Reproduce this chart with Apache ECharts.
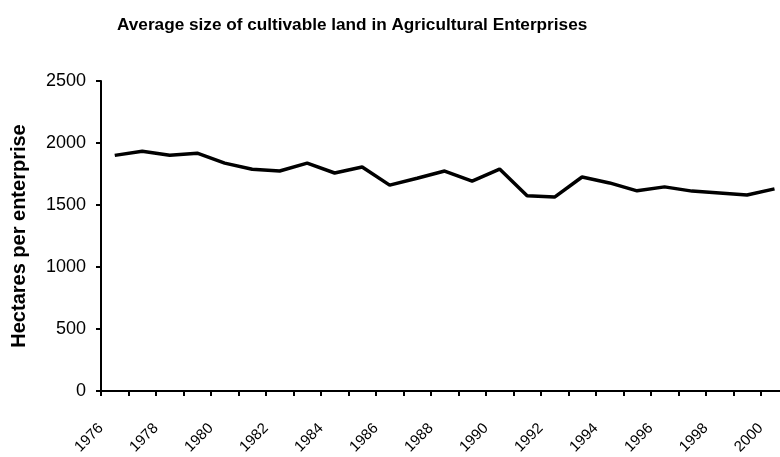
<!DOCTYPE html>
<html>
<head>
<meta charset="utf-8">
<script src="https://cdn.jsdelivr.net/npm/echarts@6/dist/echarts.min.js"></script>
<style>html,body{margin:0;padding:0;background:#fff;}#c{width:780px;height:457px;}</style>
</head>
<body>
<div id="c"></div>
<script>
var years = [1976,1977,1978,1979,1980,1981,1982,1983,1984,1985,1986,1987,1988,1989,1990,1991,1992,1993,1994,1995,1996,1997,1998,1999,2000];
var hectares = [1900,1934,1902,1918,1838,1788,1774,1838,1758,1806,1660,1716,1774,1692,1790,1574,1564,1726,1678,1614,1646,1612,1596,1580,1630];
var xTickLabels = [1976,1978,1980,1982,1984,1986,1988,1990,1992,1994,1996,1998,2000];
var yTicks = [0, 500, 1000, 1500, 2000, 2500];
var titleText = 'Average size of cultivable land in Agricultural Enterprises';
var yAxisTitle = 'Hectares per enterprise';

var chart = echarts.init(document.getElementById('c'), null, {renderer: 'canvas'});
var font = 'Liberation Sans, Arial, sans-serif';
var firstYear = years[0], lastYear = years[years.length - 1];
// each yearly value is plotted in the middle of its year slot
var seriesData = years.map(function (y, i) { return [y + 0.5, hectares[i]]; });

chart.setOption({
  animation: false,
  backgroundColor: '#ffffff',
  title: {
    text: titleText,
    left: 112, top: 12,
    textStyle: {fontFamily: font, fontSize: 17.2, fontWeight: 'bold', color: '#000'}
  },
  grid: {left: 101, top: 81, right: 0, bottom: 64.5, containLabel: false},
  xAxis: {
    type: 'value',
    min: firstYear, max: lastYear + 0.7,
    axisLine: {lineStyle: {color: '#000', width: 2}},
    axisTick: {show: true, length: 5, customValues: years, lineStyle: {color: '#000', width: 2}},
    axisLabel: {
      rotate: 45, margin: 35, fontFamily: font, fontSize: 15, color: '#000',
      customValues: xTickLabels,
      formatter: function (v) { return String(v); }
    },
    splitLine: {show: false}
  },
  yAxis: {
    type: 'value',
    min: yTicks[0], max: yTicks[yTicks.length - 1], interval: yTicks[1] - yTicks[0],
    name: yAxisTitle,
    nameLocation: 'middle',
    nameGap: 72,
    nameTextStyle: {fontFamily: font, fontSize: 20, fontWeight: 'bold', color: '#000'},
    axisLine: {show: true, lineStyle: {color: '#000', width: 2}},
    axisTick: {show: true, length: 5, lineStyle: {color: '#000', width: 2}},
    axisLabel: {margin: 15, fontFamily: font, fontSize: 18, color: '#000', formatter: function (v) { return String(v); }},
    splitLine: {show: false}
  },
  series: [{
    type: 'line',
    data: seriesData,
    symbol: 'none',
    lineStyle: {color: '#000', width: 3.5},
    clip: false
  }]
});
</script>
</body>
</html>
